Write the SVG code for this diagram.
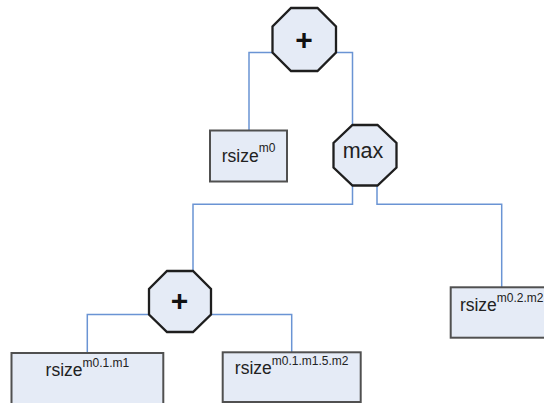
<svg xmlns="http://www.w3.org/2000/svg" width="544" height="403" viewBox="0 0 544 403">
<style>
.conn{fill:none;stroke:#6a94d4;stroke-width:1.5}
.oct{fill:#e5ebf6;stroke:#1e1e1e;stroke-width:2.3;stroke-linejoin:miter}
.box{fill:#e5ebf6;stroke:#505050;stroke-width:2}
.lbl{font-family:"Liberation Sans",Arial,sans-serif;font-size:17.5px;fill:#222}
.sup{font-size:12px}
.op{font-family:"Liberation Sans",Arial,sans-serif;font-size:30px;font-weight:bold;fill:#111;text-anchor:middle}
.mx{font-family:"Liberation Sans",Arial,sans-serif;font-size:21.5px;fill:#222;text-anchor:middle}
</style>
<rect width="544" height="403" fill="#ffffff"/>
<g id="connectors">
<path class="conn" d="M272.5,52.5 H249 V130.5"/>
<path class="conn" d="M336,52.5 H352.5 V125"/>
<path class="conn" d="M352.5,185.5 V204.3 H193 V271"/>
<path class="conn" d="M377,185.5 V204.3 H501.7 V287.3"/>
<path class="conn" d="M149,314.5 H87.3 V353"/>
<path class="conn" d="M211,314.5 H291.7 V352.3"/>
</g>
<g id="plus-top">
<polygon class="oct" points="291,8 317.5,8 336,26.5 336,52.5 317.5,71 291,71 272.5,52.5 272.5,26.5"/>
<text class="op" x="304" y="50">+</text>
</g>
<g id="rsize-m0">
<rect class="box" x="210" y="130.5" width="77" height="51"/>
<text class="lbl" x="248.5" y="162" text-anchor="middle">rsize<tspan class="sup" dy="-10">m0</tspan></text>
</g>
<g id="max">
<polygon class="oct" points="352.5,125 377.5,125 396.5,143 396.5,167.5 377.5,185.5 352.5,185.5 333.5,167.5 333.5,143"/>
<text class="mx" x="363" y="158.3">max</text>
</g>
<g id="plus-low">
<polygon class="oct" points="167,271 193,271 211,289 211,314.5 193,332 167,332 149,314.5 149,289"/>
<text class="op" x="179.5" y="310.5">+</text>
</g>
<g id="rsize-m0.2.m2">
<rect class="box" x="450.7" y="287.3" width="102" height="50.4"/>
<text class="lbl" x="501.7" y="311" text-anchor="middle">rsize<tspan class="sup" dy="-9">m0.2.m2</tspan></text>
</g>
<g id="rsize-m0.1.m1">
<rect class="box" x="11.5" y="353" width="151.8" height="55"/>
<text class="lbl" x="87.4" y="376" text-anchor="middle">rsize<tspan class="sup" dy="-9">m0.1.m1</tspan></text>
</g>
<g id="rsize-m0.1.m1.5.m2">
<rect class="box" x="222.7" y="352.3" width="138" height="49.7"/>
<text class="lbl" x="291.7" y="374.3" text-anchor="middle">rsize<tspan class="sup" dy="-9">m0.1.m1.5.m2</tspan></text>
</g>
</svg>
